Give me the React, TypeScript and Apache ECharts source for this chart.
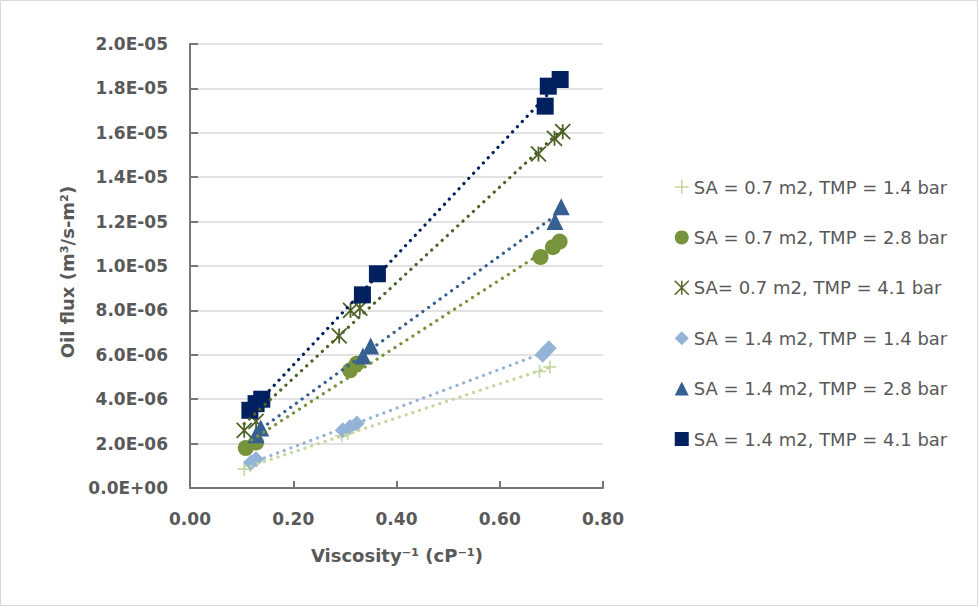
import React, { useEffect, useRef } from "react";
import * as echarts from "echarts";

// ---- Data ----
const seriesNames = [
  "SA = 0.7 m2, TMP = 1.4 bar",
  "SA = 0.7 m2, TMP = 2.8 bar",
  "SA= 0.7 m2, TMP = 4.1 bar",
  "SA = 1.4 m2, TMP = 1.4 bar",
  "SA = 1.4 m2, TMP = 2.8 bar",
  "SA = 1.4 m2, TMP = 4.1 bar",
];

const xPlus = [0.105, 0.117, 0.294, 0.306, 0.677, 0.697];
const yPlus = [0.85e-6, 1.0e-6, 2.35e-6, 2.47e-6, 5.25e-6, 5.45e-6];

const xCircle = [0.108, 0.128, 0.31, 0.323, 0.679, 0.703, 0.716];
const yCircle = [1.8e-6, 2.05e-6, 5.3e-6, 5.6e-6, 1.04e-5, 1.085e-5, 1.11e-5];

const xStar = [0.105, 0.128, 0.289, 0.311, 0.329, 0.675, 0.706, 0.722];
const yStar = [2.6e-6, 3.0e-6, 6.85e-6, 8.0e-6, 8.1e-6, 1.505e-5, 1.575e-5, 1.605e-5];

const xDiamond = [0.118, 0.128, 0.296, 0.31, 0.323, 0.683, 0.695];
const yDiamond = [1.15e-6, 1.3e-6, 2.6e-6, 2.75e-6, 2.9e-6, 6.0e-6, 6.3e-6];

const xTriangle = [0.128, 0.137, 0.335, 0.35, 0.707, 0.719];
const yTriangle = [2.4e-6, 2.7e-6, 5.95e-6, 6.4e-6, 1.2e-5, 1.267e-5];

const xSquare = [0.116, 0.128, 0.139, 0.334, 0.363, 0.688, 0.694, 0.717];
const ySquare = [3.5e-6, 3.8e-6, 4.0e-6, 8.7e-6, 9.65e-6, 1.72e-5, 1.81e-5, 1.84e-5];

const xTicks = { min: 0, max: 0.8, interval: 0.2 };
const yTicks = { min: 0, max: 2.0e-5, interval: 2.0e-6 };

const xTitle = "Viscosity⁻¹ (cP⁻¹)";
const yTitle = "Oil flux (m³/s-m²)";

// ---- Styles ----
const colors = ["#C3D69B", "#77933C", "#4F6228", "#95B3D7", "#376092", "#002060"];
const symbols = [
  "path://M5,0 L5,10 M0,5 L10,5",
  "circle",
  "path://M0,0 L10,10 M0,10 L10,0 M5,0 L5,10",
  "diamond",
  "triangle",
  "rect",
];
const sizes = [13, 16, 15, 16, 17, 17];
const strokeOnly = [true, false, true, false, false, false];

const FONT = "DejaVu Sans";
const TEXT = "#595959";

function pairs(xs: number[], ys: number[]) {
  return xs.map((x, i) => [x, ys[i]]);
}

function trend(xs: number[], ys: number[]) {
  const n = xs.length;
  const mx = xs.reduce((a, b) => a + b, 0) / n;
  const my = ys.reduce((a, b) => a + b, 0) / n;
  let sxy = 0;
  let sxx = 0;
  for (let i = 0; i < n; i++) {
    sxy += (xs[i] - mx) * (ys[i] - my);
    sxx += (xs[i] - mx) * (xs[i] - mx);
  }
  const b = sxy / sxx;
  const a = my - b * mx;
  const x0 = Math.min(...xs);
  const x1 = Math.max(...xs);
  return [
    [x0, a + b * x0],
    [x1, a + b * x1],
  ];
}

function sci(v: number) {
  const s = v.toExponential(1);
  const [m, e] = s.split("e");
  const ei = parseInt(e, 10);
  const sign = ei < 0 ? "-" : "+";
  const abs = Math.abs(ei);
  return `${m}E${sign}${abs < 10 ? "0" + abs : abs}`;
}

export default function App() {
  const ref = useRef<HTMLDivElement>(null);

  useEffect(() => {
    if (!ref.current) return;
    const chart = echarts.init(ref.current, undefined, { renderer: "svg" });

    const xsAll = [xPlus, xCircle, xStar, xDiamond, xTriangle, xSquare];
    const ysAll = [yPlus, yCircle, yStar, yDiamond, yTriangle, ySquare];

    const styleFor = (i: number, bw: number) =>
      strokeOnly[i]
        ? { color: "rgba(0,0,0,0)", borderColor: colors[i], borderWidth: bw, opacity: 1 }
        : { color: colors[i], opacity: 1 };

    const scatterSeries = xsAll.map((xs, i) => ({
      name: seriesNames[i],
      type: "scatter",
      data: pairs(xs, ysAll[i]),
      symbol: symbols[i],
      symbolSize: sizes[i],
      z: 2,
      itemStyle: styleFor(i, i === 0 ? 1.6 : 1.8),
    }));

    const trendSeries = xsAll.map((xs, i) => ({
      name: "trend" + i,
      type: "line",
      data: trend(xs, ysAll[i]),
      symbol: "none",
      silent: true,
      z: 3,
      lineStyle: { color: colors[i], width: 3.2, type: [0.1, 7], cap: "round" },
    }));

    chart.setOption({
      animation: false,
      backgroundColor: "#ffffff",
      grid: { left: 190, right: 377, top: 44, bottom: 119, outerBoundsMode: "none" },
      legend: {
        data: seriesNames.map((n, i) => ({
          name: n,
          icon: symbols[i],
          itemStyle: styleFor(i, 1.5),
        })),
        orient: "vertical",
        left: 669,
        top: 172,
        itemWidth: 14,
        itemHeight: 14,
        itemGap: 30.4,
        textStyle: { fontFamily: FONT, fontSize: 18, color: TEXT, lineHeight: 20 },
        selectedMode: false,
      },
      xAxis: {
        type: "value",
        min: xTicks.min,
        max: xTicks.max,
        interval: xTicks.interval,
        axisLine: { show: true, lineStyle: { color: "#767676", width: 2 } },
        axisTick: { show: true, inside: true, length: 7, lineStyle: { color: "#767676", width: 2 } },
        splitLine: { show: false },
        axisLabel: {
          margin: 22,
          formatter: (v: number) => v.toFixed(2),
          fontFamily: FONT,
          fontSize: 17,
          fontWeight: "bold",
          color: TEXT,
        },
      },
      yAxis: {
        type: "value",
        min: yTicks.min,
        max: yTicks.max,
        interval: yTicks.interval,
        axisLine: { show: true, lineStyle: { color: "#767676", width: 2 } },
        axisTick: { show: true, inside: true, length: 8, lineStyle: { color: "#767676", width: 2 } },
        splitLine: { show: true, lineStyle: { color: "#D9D9D9", width: 1.5 } },
        axisLabel: {
          margin: 22,
          formatter: (v: number) => sci(v),
          fontFamily: FONT,
          fontSize: 17,
          fontWeight: "bold",
          color: TEXT,
        },
      },
      graphic: [
        {
          type: "rect",
          shape: { x: 0.5, y: 0.5, width: 977, height: 605 },
          style: { fill: "none", stroke: "#D9D9D9", lineWidth: 1 },
          silent: true,
          z: -10,
        },
        {
          type: "text",
          x: 67,
          y: 272,
          rotation: Math.PI / 2,
          style: {
            text: yTitle,
            font: `bold 18px "${FONT}"`,
            fill: TEXT,
            align: "center",
            verticalAlign: "middle",
          },
        },
        {
          type: "text",
          x: 397,
          y: 555,
          style: {
            text: xTitle,
            font: `bold 18px "${FONT}"`,
            fill: TEXT,
            align: "center",
            verticalAlign: "middle",
          },
        },
      ],
      series: [...scatterSeries, ...trendSeries],
    });

    return () => chart.dispose();
  }, []);

  return (
    <div
      ref={ref}
      style={{ position: "fixed", left: 0, top: 0, width: 980, height: 607, background: "#fff" }}
    />
  );
}
